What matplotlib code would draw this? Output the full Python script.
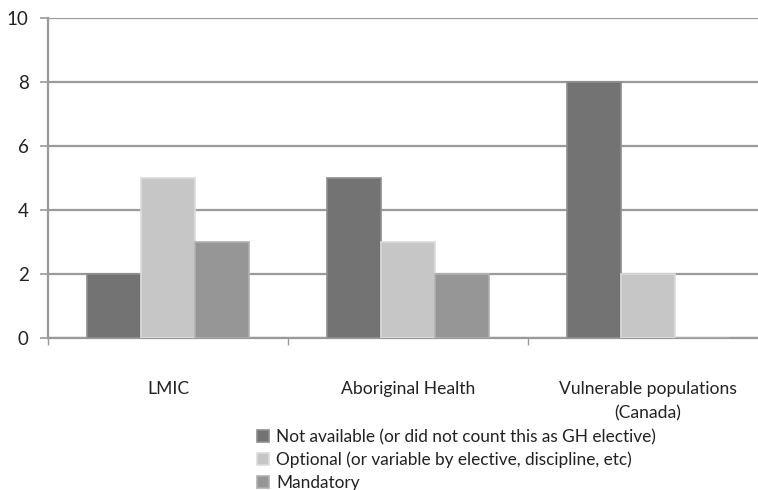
import matplotlib
matplotlib.use("Agg")
import matplotlib.pyplot as plt
import numpy as np

plt.rcParams['font.family'] = ['Lato', 'DejaVu Sans']

categories = ["LMIC", "Aboriginal Health", "Vulnerable populations\n(Canada)"]
series_names = [
    "Not available (or did not count this as GH elective)",
    "Optional (or variable by elective, discipline, etc)",
    "Mandatory",
]
not_available = [2, 5, 8]
optional = [5, 3, 2]
mandatory = [3, 2, 0]

colors = ["#737373", "#c6c6c6", "#969696"]
edges = ["#8e8e8e", "#dcdcdc", "#b0b0b0"]

fig = plt.figure(figsize=(7.58, 4.90), dpi=100)
ax = fig.add_axes([48 / 758, 1 - 338 / 490, 720 / 758, 320 / 490])

x = np.arange(len(categories))
w = 0.225
for i, (vals, c, e, name) in enumerate(zip([not_available, optional, mandatory], colors, edges, series_names)):
    ax.bar(x + (i - 1) * w, vals, w, color=c, edgecolor=e, linewidth=1.2,
           label=name, zorder=3)

ax.set_xlim(-0.5, len(categories) - 0.5)
ax.set_ylim(0, 10)
ax.set_yticks([0, 2, 4, 6, 8, 10])
ax.yaxis.grid(True, color="#9a9a9a", linewidth=1.6, zorder=0)
ax.set_axisbelow(True)

for s in ["top", "right"]:
    ax.spines[s].set_visible(False)
for s in ["left", "bottom"]:
    ax.spines[s].set_color("#9a9a9a")
    ax.spines[s].set_linewidth(1.6)

ax.set_xticks(x)
ax.set_xticklabels(categories, fontsize=12.6, color="#222222", linespacing=1.6)
ax.tick_params(axis="x", length=0, pad=31)
ax.set_xticks(np.arange(len(categories) + 1) - 0.5, minor=True)
ax.tick_params(axis="x", which="minor", length=5, color="#9a9a9a", width=1)
ax.tick_params(axis="y", length=6, color="#9a9a9a", width=1.2, pad=8,
               labelsize=13.5, labelcolor="#222222")

fig.legend(loc="upper left", bbox_to_anchor=(257 / 758, 1 - 429 / 490),
           frameon=False, fontsize=12.4, handlelength=0.7, handleheight=0.7,
           handletextpad=0.4, labelspacing=0.38, borderaxespad=0,
           borderpad=0, labelcolor="#222222")

fig.savefig("out.png", dpi=100)
